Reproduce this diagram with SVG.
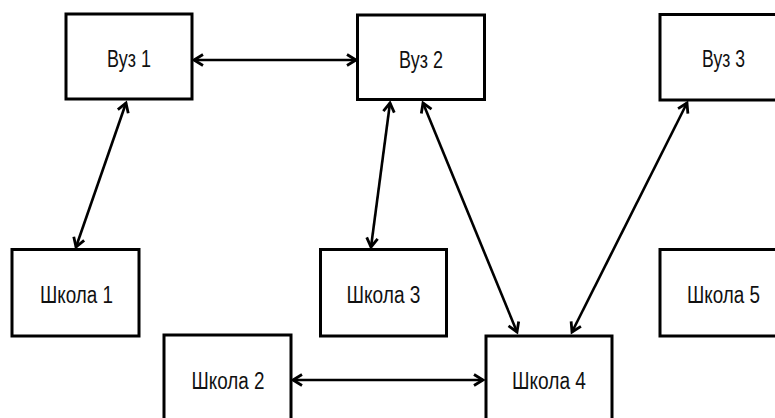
<svg xmlns="http://www.w3.org/2000/svg" width="775" height="418" viewBox="0 0 775 418">
<style>
.box{fill:#fff;stroke:#000;stroke-width:3}
.lbl{font-family:"Liberation Sans",Arial,sans-serif;font-size:23px;fill:#111;text-anchor:middle}
.cn{stroke:#000;stroke-width:2.6;fill:none;marker-start:url(#ah);marker-end:url(#ah)}
</style>
<defs>
<marker id="ah" markerUnits="userSpaceOnUse" viewBox="-12 -8 14 16" refX="0" refY="0" markerWidth="14" markerHeight="16" orient="auto-start-reverse" overflow="visible">
<path d="M-9,-5.5 L0,0 L-9,5.5" fill="none" stroke="#000" stroke-width="2.8"/>
</marker>
</defs>
<rect width="775" height="418" fill="#fff"/>
<g id="connectors">
<line class="cn" x1="194" y1="60" x2="356" y2="60"/>
<line class="cn" x1="126" y1="103" x2="76" y2="247"/>
<line class="cn" x1="390" y1="103" x2="371" y2="247"/>
<line class="cn" x1="423" y1="103" x2="517" y2="332"/>
<line class="cn" x1="687" y1="103" x2="572" y2="332"/>
<line class="cn" x1="293" y1="380" x2="483" y2="380"/>
</g>
<g id="vuz1"><rect class="box" x="66" y="14" width="126" height="85"/><text class="lbl" x="129" y="67" textLength="44" lengthAdjust="spacingAndGlyphs">Вуз 1</text></g>
<g id="vuz2"><rect class="box" x="357.5" y="15" width="127" height="84.5"/><text class="lbl" x="421" y="68" textLength="44" lengthAdjust="spacingAndGlyphs">Вуз 2</text></g>
<g id="vuz3"><rect class="box" x="660" y="14.5" width="127" height="85.5"/><text class="lbl" x="723.5" y="67" textLength="43" lengthAdjust="spacingAndGlyphs">Вуз 3</text></g>
<g id="shkola1"><rect class="box" x="12" y="249.5" width="127" height="86.5"/><text class="lbl" x="76.5" y="303" textLength="73" lengthAdjust="spacingAndGlyphs">Школа 1</text></g>
<g id="shkola3"><rect class="box" x="320.5" y="249.5" width="126" height="86.5"/><text class="lbl" x="383.5" y="303" textLength="74" lengthAdjust="spacingAndGlyphs">Школа 3</text></g>
<g id="shkola5"><rect class="box" x="660" y="249.5" width="127" height="86.5"/><text class="lbl" x="723.5" y="303" textLength="73" lengthAdjust="spacingAndGlyphs">Школа 5</text></g>
<g id="shkola2"><rect class="box" x="164" y="335" width="127" height="100"/><text class="lbl" x="228" y="389" textLength="73" lengthAdjust="spacingAndGlyphs">Школа 2</text></g>
<g id="shkola4"><rect class="box" x="486" y="336" width="126" height="100"/><text class="lbl" x="549" y="389" textLength="74" lengthAdjust="spacingAndGlyphs">Школа 4</text></g>
</svg>
